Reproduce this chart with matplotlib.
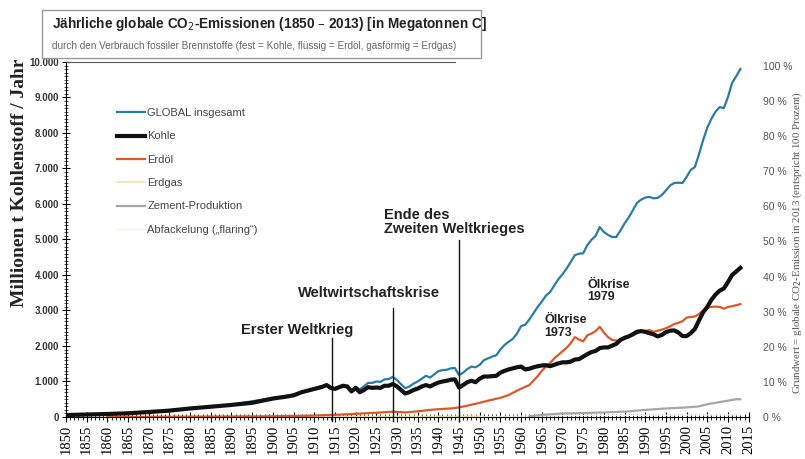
import matplotlib.pyplot as plt
from matplotlib.patches import Rectangle
from matplotlib.ticker import MultipleLocator, FuncFormatter

# Werte in Megatonnen Kohlenstoff pro Jahr
global_years = [1850, 1860, 1870, 1880, 1890, 1900, 1905, 1910, 1913, 1914, 1915, 1917,
                1919, 1920, 1921, 1922, 1923, 1924, 1925, 1926, 1927, 1928, 1929, 1930,
                1931, 1932, 1933, 1934, 1935, 1936, 1937, 1938, 1939, 1940, 1941, 1942,
                1943, 1944, 1945, 1946, 1947, 1948, 1949, 1950, 1951, 1952, 1953, 1954,
                1955, 1956, 1957, 1958, 1959, 1960, 1961, 1962, 1963, 1964, 1965, 1966,
                1967, 1968, 1969, 1970, 1971, 1972, 1973, 1974, 1975, 1976, 1977, 1978,
                1979, 1980, 1981, 1982, 1983, 1984, 1985, 1986, 1987, 1988, 1989, 1990,
                1991, 1992, 1993, 1994, 1995, 1996, 1997, 1998, 1999, 2000, 2001, 2002,
                2003, 2004, 2005, 2006, 2007, 2008, 2009, 2010, 2011, 2012, 2013]
global_total = [55, 88, 142, 245, 350, 535, 625, 805, 915, 835, 800, 900,
                740, 850, 780, 860, 960, 960, 1000, 990, 1060, 1070, 1130, 1040,
                920, 810, 860, 940, 1000, 1080, 1160, 1110, 1200, 1290, 1320, 1330,
                1370, 1380, 1180, 1250, 1350, 1420, 1400, 1470, 1600, 1650, 1700, 1740,
                1900, 2030, 2120, 2200, 2350, 2560, 2600, 2750, 2920, 3100, 3250, 3420,
                3520, 3700, 3880, 4020, 4180, 4370, 4560, 4600, 4610, 4840, 4990, 5100,
                5350, 5210, 5130, 5070, 5070, 5250, 5450, 5620, 5820, 6030, 6120, 6180,
                6200, 6160, 6170, 6250, 6380, 6520, 6590, 6600, 6590, 6760, 6960, 7040,
                7400, 7800, 8150, 8400, 8600, 8730, 8700, 9010, 9410, 9600, 9800]

coal_years = [1850, 1855, 1860, 1865, 1870, 1875, 1880, 1885, 1890, 1895, 1900, 1903,
              1905, 1907, 1908, 1910, 1912, 1913, 1914, 1915, 1916, 1917, 1918, 1919,
              1920, 1921, 1922, 1923, 1924, 1925, 1926, 1927, 1928, 1929, 1930, 1931,
              1932, 1933, 1934, 1935, 1936, 1937, 1938, 1939, 1940, 1941, 1942, 1943,
              1944, 1945, 1946, 1947, 1948, 1949, 1950, 1951, 1952, 1953, 1954, 1955,
              1956, 1957, 1958, 1959, 1960, 1961, 1962, 1963, 1964, 1965, 1966, 1967,
              1968, 1969, 1970, 1971, 1972, 1973, 1974, 1975, 1976, 1977, 1978, 1979,
              1980, 1981, 1982, 1983, 1984, 1985, 1986, 1987, 1988, 1989, 1990, 1991,
              1992, 1993, 1994, 1995, 1996, 1997, 1998, 1999, 2000, 2001, 2002, 2003,
              2004, 2005, 2006, 2007, 2008, 2009, 2010, 2011, 2012, 2013]
coal = [55, 70, 85, 105, 140, 180, 240, 290, 340, 400, 520, 570,
        610, 700, 730, 790, 850, 900, 820, 790, 840, 880, 860, 720,
        820, 700, 760, 840, 820, 830, 820, 880, 880, 930, 860, 760,
        660, 700, 760, 800, 860, 900, 860, 920, 970, 1000, 1020, 1050,
        1060, 830, 900, 980, 1020, 980, 1080, 1140, 1140, 1150, 1160, 1250,
        1300, 1340, 1370, 1400, 1420, 1340, 1360, 1400, 1430, 1450, 1460, 1430,
        1470, 1510, 1540, 1540, 1560, 1620, 1630, 1700, 1770, 1830, 1860, 1940,
        1960, 1960, 2010, 2060, 2170, 2230, 2270, 2330, 2400, 2420, 2400, 2360,
        2330, 2270, 2310, 2390, 2430, 2440, 2380, 2280, 2280, 2360, 2480, 2720,
        2950, 3100, 3300, 3450, 3560, 3620, 3800, 4000, 4100, 4200]

oil_years = [1860, 1870, 1880, 1890, 1900, 1905, 1910, 1913, 1915, 1920, 1925, 1929,
             1932, 1935, 1938, 1940, 1943, 1945, 1947, 1950, 1952, 1955, 1957, 1960,
             1962, 1964, 1965, 1966, 1967, 1968, 1969, 1970, 1971, 1972, 1973, 1974,
             1975, 1976, 1977, 1978, 1979, 1980, 1981, 1982, 1983, 1984, 1985, 1986,
             1987, 1988, 1989, 1990, 1991, 1992, 1993, 1994, 1995, 1996, 1997, 1998,
             1999, 2000, 2001, 2002, 2003, 2004, 2005, 2006, 2007, 2008, 2009, 2010,
             2011, 2012, 2013]
oil = [0, 5, 10, 15, 20, 30, 40, 55, 60, 90, 120, 150,
       130, 160, 200, 220, 240, 270, 320, 400, 460, 540, 620, 800,
       900, 1150, 1300, 1420, 1520, 1650, 1750, 1850, 1950, 2080, 2250, 2180,
       2130, 2300, 2350, 2420, 2540, 2380, 2250, 2170, 2150, 2180, 2200, 2280,
       2300, 2360, 2400, 2420, 2450, 2400, 2430, 2460, 2500, 2550, 2620, 2650,
       2700, 2800, 2820, 2830, 2900, 3000, 3080, 3100, 3110, 3100, 3050, 3100,
       3120, 3150, 3180]

gas_years = [1885, 1900, 1920, 1940, 1950]
gas = [5, 8, 12, 18, 25]

cement_years = [1962, 1965, 1970, 1975, 1980, 1985, 1990, 1995, 2000, 2003, 2005,
                2008, 2010, 2012, 2013]
cement = [20, 60, 100, 110, 130, 150, 200, 240, 270, 300, 360, 420, 460, 500, 500]

flaring_years = [1950, 1970, 1990, 2013]
flaring = [10, 40, 50, 60]

plt.rcParams['font.family'] = ['Liberation Sans', 'DejaVu Sans']

fig = plt.figure(figsize=(8.05, 4.59), dpi=100)
ax = fig.add_axes([0.082, 0.0915, 0.848, 0.7735])

ax.plot(gas_years, gas, color='#efe3a8', lw=1.2, label='Erdgas')
ax.plot(flaring_years, flaring, color='#f6f1e4', lw=1.0, label='Abfackelung (\u201eflaring\u201c)')
ax.plot(cement_years, cement, color='#a6a6a6', lw=1.6, label='Zement-Produktion')
ax.plot(global_years, global_total, color='#2c7ba3', lw=1.6, label='GLOBAL insgesamt')
ax.plot(oil_years, oil, color='#d9592b', lw=1.6, label='Erd\u00f6l')
ax.plot(coal_years, coal, color='#111111', lw=3.0, label='Kohle')

ax.set_xlim(1850, 2015)
ax.set_ylim(0, 10000)
ax.xaxis.set_major_locator(MultipleLocator(5))
ax.xaxis.set_minor_locator(MultipleLocator(1))
ax.yaxis.set_major_locator(MultipleLocator(1000))
ax.yaxis.set_minor_locator(MultipleLocator(100))
ax.yaxis.set_major_formatter(FuncFormatter(lambda v, p: f'{v:,.0f}'.replace(',', '.')))
ax.tick_params(axis='x', which='major', direction='inout', length=7, width=0.8,
               labelrotation=90, labelsize=10.5, pad=2)
ax.tick_params(axis='x', which='minor', direction='inout', length=4, width=0.6)
ax.tick_params(axis='y', which='major', direction='inout', length=6, width=0.8, labelsize=7, pad=2)
ax.tick_params(axis='y', which='minor', direction='inout', length=3, width=0.5)
for lab in ax.get_xticklabels():
    lab.set_family('Liberation Serif')
for lab in ax.get_yticklabels():
    lab.set_fontweight('bold')
    lab.set_color('#333333')
for s in ['top', 'right']:
    ax.spines[s].set_visible(False)
ax.axhline(10000, xmin=0, xmax=0.57, color='#555555', lw=0.8, clip_on=False)

ax.set_ylabel('Millionen t Kohlenstoff / Jahr', family='Liberation Serif',
              fontweight='bold', fontsize=14, color='#222222')
ax.yaxis.set_label_coords(-0.056, 0.66)

ax2 = ax.twinx()
ax2.set_ylim(0, 100 * 10000 / 9890)
ax2.yaxis.set_major_locator(MultipleLocator(10))
ax2.yaxis.set_major_formatter(FuncFormatter(lambda v, p: f'{v:.0f} %'))
ax2.tick_params(axis='y', length=0, labelsize=7.5, labelcolor='#555555', pad=10)
for s in ['top', 'right', 'left', 'bottom']:
    ax2.spines[s].set_visible(False)
ax2.set_ylabel('Grundwert = globale CO$_2$-Emission in 2013 (entspricht 100 Prozent)',
               family='Liberation Serif', fontsize=7.8, color='#555555')
ax2.yaxis.set_label_coords(1.062, 0.49)

# Ereignisse
events = [(1914.3, 2230, 'Erster Weltkrieg', 1905.8, 2450, 'center'),
          (1929.0, 3070, 'Weltwirtschaftskrise', 1923.3, 3490, 'center'),
          (1945.0, 4990, 'Ende des\nZweiten Weltkrieges', 1926.8, 5480, 'left')]
for xl, ytop, txt, tx, ty, ha in events:
    ax.plot([xl, xl], [-100, ytop], color='#111111', lw=1.0, clip_on=False)
    ax.text(tx, ty, txt, ha=ha, va='center', fontsize=10.5, fontweight='bold',
            color='#222222', linespacing=1.0)
ax.text(1965.7, 2550, '\u00d6lkrise\n1973', ha='left', va='center', fontsize=9,
        fontweight='bold', color='#222222', linespacing=1.05)
ax.text(1976.1, 3550, '\u00d6lkrise\n1979', ha='left', va='center', fontsize=9,
        fontweight='bold', color='#222222', linespacing=1.05)

handles, labels = ax.get_legend_handles_labels()
order = ['GLOBAL insgesamt', 'Kohle', 'Erd\u00f6l', 'Erdgas', 'Zement-Produktion',
         'Abfackelung (\u201eflaring\u201c)']
hmap = dict(zip(labels, handles))
leg = ax.legend([hmap[k] for k in order], order, loc='upper left',
                bbox_to_anchor=(0.075, 0.87), frameon=False, fontsize=8,
                labelspacing=1.2, handlelength=2.5, handletextpad=0.2,
                borderpad=0, borderaxespad=0)
for t in leg.get_texts():
    t.set_color('#444444')

# Titelkasten
fig.patches.append(Rectangle((0.052, 0.874), 0.545, 0.105, transform=fig.transFigure,
                             facecolor='white', edgecolor='#999999', lw=1.0))
fig.text(0.065, 0.948, 'J\u00e4hrliche globale CO$_2$-Emissionen (1850 \u2013 2013) [in Megatonnen C]',
         fontsize=9.8, fontweight='bold', color='#222222', va='center')
fig.text(0.065, 0.9, 'durch den Verbrauch fossiler Brennstoffe (fest = Kohle, fl\u00fcssig = Erd\u00f6l, '
         'gasf\u00f6rmig = Erdgas)', fontsize=7.2, color='#666666', va='center')

fig.savefig('out.png', dpi=100)
